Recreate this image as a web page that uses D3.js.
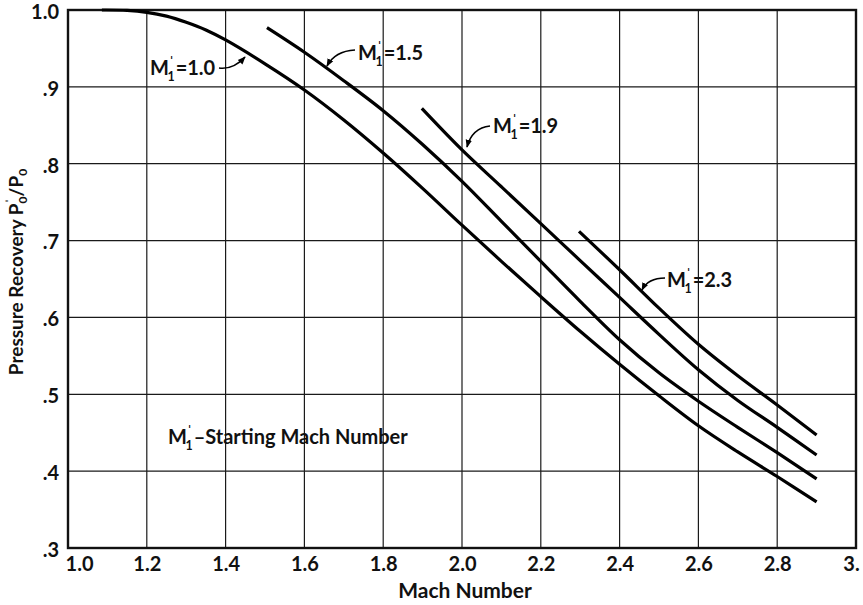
<!DOCTYPE html>
<html>
<head>
<meta charset="utf-8">
<script src="https://cdn.jsdelivr.net/npm/d3@7"></script>
<style>
  html, body { margin: 0; padding: 0; background: #fff; }
  svg { display: block; }
  text { font-family: Lato, "Open Sans", sans-serif; fill: #111; }
</style>
</head>
<body>
<svg id="chart" width="863" height="605"></svg>
<script>
// Pressure recovery vs. Mach number for several starting Mach numbers
const startingMach = ["1.0", "1.5", "1.9", "2.3"];

const mach_10 = [1.086, 1.15, 1.2, 1.25, 1.3, 1.35, 1.4, 1.5, 1.6, 1.7, 1.8, 1.9, 2.0, 2.1, 2.2, 2.3, 2.4, 2.5, 2.6, 2.7, 2.8, 2.9];
const recovery_10 = [1.0, 0.9995, 0.997, 0.992, 0.984, 0.974, 0.961, 0.930, 0.896, 0.857, 0.814, 0.768, 0.720, 0.673, 0.627, 0.582, 0.539, 0.498, 0.459, 0.425, 0.393, 0.360];

const mach_15 = [1.505, 1.6, 1.7, 1.8, 1.9, 2.0, 2.1, 2.2, 2.3, 2.4, 2.5, 2.6, 2.7, 2.8, 2.9];
const recovery_15 = [0.977, 0.945, 0.908, 0.869, 0.825, 0.777, 0.725, 0.673, 0.621, 0.571, 0.528, 0.491, 0.457, 0.424, 0.390];

const mach_19 = [1.898, 2.0, 2.1, 2.2, 2.3, 2.4, 2.5, 2.6, 2.7, 2.8, 2.9];
const recovery_19 = [0.872, 0.818, 0.770, 0.722, 0.674, 0.626, 0.578, 0.532, 0.492, 0.457, 0.421];

const mach_23 = [2.297, 2.4, 2.5, 2.6, 2.7, 2.8, 2.9];
const recovery_23 = [0.712, 0.662, 0.612, 0.565, 0.524, 0.486, 0.447];

const xTicks = [1.0, 1.2, 1.4, 1.6, 1.8, 2.0, 2.2, 2.4, 2.6, 2.8, 3.0];
const xTickLabels = ["1.0", "1.2", "1.4", "1.6", "1.8", "2.0", "2.2", "2.4", "2.6", "2.8", "3."];
const yTicks = [0.3, 0.4, 0.5, 0.6, 0.7, 0.8, 0.9, 1.0];
const yTickLabels = [".3", ".4", ".5", ".6", ".7", ".8", ".9", "1.0"];

const series = [
  { name: startingMach[0], mach: mach_10, rec: recovery_10 },
  { name: startingMach[1], mach: mach_15, rec: recovery_15 },
  { name: startingMach[2], mach: mach_19, rec: recovery_19 },
  { name: startingMach[3], mach: mach_23, rec: recovery_23 }
];

const svg = d3.select("#chart");
const plot = { left: 68, right: 856, top: 10, bottom: 548 };

const x = d3.scaleLinear().domain([1.0, 3.0]).range([plot.left, plot.right]);
const y = d3.scaleLinear().domain([0.3, 1.0]).range([plot.bottom, plot.top]);

// grid
const grid = svg.append("g").attr("stroke", "#1a1a1a").attr("stroke-width", 1.2);
grid.selectAll("line.v").data(xTicks.slice(1, -1)).join("line")
  .attr("x1", d => x(d)).attr("x2", d => x(d))
  .attr("y1", plot.top).attr("y2", plot.bottom);
grid.selectAll("line.h").data(yTicks.slice(1, -1)).join("line")
  .attr("x1", plot.left).attr("x2", plot.right)
  .attr("y1", d => y(d)).attr("y2", d => y(d));

// frame
svg.append("rect")
  .attr("x", plot.left).attr("y", plot.top)
  .attr("width", plot.right - plot.left).attr("height", plot.bottom - plot.top)
  .attr("fill", "none").attr("stroke", "#111").attr("stroke-width", 2.4);

// axes (labels only; gridlines drawn above)
const xAxis = d3.axisBottom(x).tickValues(xTicks)
  .tickFormat((d, i) => xTickLabels[i]).tickSize(0).tickPadding(9);
const gx = svg.append("g").attr("transform", `translate(0,${plot.bottom})`).call(xAxis);
gx.select(".domain").remove();
gx.selectAll("text").attr("font-size", 20).attr("font-weight", 700)
  .attr("font-family", "Lato, sans-serif").attr("fill", "#111")
  .attr("dx", (d, i) => i === 0 ? 11 : (i === xTicks.length - 1 ? -5 : 0));

const yAxis = d3.axisLeft(y).tickValues(yTicks)
  .tickFormat((d, i) => yTickLabels[i]).tickSize(0).tickPadding(9);
const gy = svg.append("g").attr("transform", `translate(${plot.left},0)`).call(yAxis);
gy.select(".domain").remove();
gy.selectAll("text").attr("font-size", 20).attr("font-weight", 700)
  .attr("font-family", "Lato, sans-serif").attr("fill", "#111")
  .attr("dy", "0.42em");

// curves
const line = d3.line()
  .x(d => x(d[0])).y(d => y(d[1]))
  .curve(d3.curveCatmullRom.alpha(0.5));
svg.append("g").selectAll("path").data(series).join("path")
  .attr("d", s => line(s.mach.map((m, i) => [m, s.rec[i]])))
  .attr("fill", "none").attr("stroke", "#000").attr("stroke-width", 3.2)
  .attr("stroke-linecap", "butt");

// M'1 label: M with a prime over a subscript 1
function machLabel(g, px, py, rest, size) {
  const t = g.append("text").attr("x", px).attr("y", py)
    .attr("font-size", size).attr("font-weight", 700);
  t.append("tspan").text("M");
  t.append("tspan").attr("font-size", size * 0.62).attr("dy", -size * 0.40).attr("dx", 1).text("ˈ");
  t.append("tspan").attr("font-size", size * 0.62).attr("dy", size * 0.68).attr("dx", -size * 0.28).text("1");
  t.append("tspan").attr("dy", -size * 0.28).attr("dx", 1).text(rest);
  return t;
}

svg.append("defs").append("marker")
  .attr("id", "arrow").attr("viewBox", "0 0 10 10")
  .attr("refX", 9).attr("refY", 5)
  .attr("markerWidth", 8).attr("markerHeight", 8)
  .attr("markerUnits", "userSpaceOnUse")
  .attr("orient", "auto")
  .append("path").attr("d", "M0,1 L10,5 L0,9 Z").attr("fill", "#000");

const notes = svg.append("g");
const annotations = [
  { label: "=" + startingMach[0], tx: 150, ty: 75, path: "M219,68 Q233,70 245,57" },
  { label: "=" + startingMach[1], tx: 358, ty: 60, path: "M355,50 Q335,51 327,66" },
  { label: "=" + startingMach[2], tx: 493, ty: 133, path: "M490,126 Q472,128 467,147" },
  { label: "=" + startingMach[3], tx: 667, ty: 287, path: "M665,278 Q648,278 642,290" }
];
annotations.forEach(a => {
  machLabel(notes, a.tx, a.ty, a.label, 20);
  notes.append("path").attr("d", a.path)
    .attr("fill", "none").attr("stroke", "#000").attr("stroke-width", 1.6)
    .attr("marker-end", "url(#arrow)");
});

machLabel(notes, 168, 444, "–Starting Mach Number", 20);

// axis titles
svg.append("text")
  .attr("x", 465).attr("y", 598)
  .attr("text-anchor", "middle").attr("font-size", 21).attr("font-weight", 700)
  .text("Mach Number");

const yt = svg.append("text")
  .attr("transform", "translate(23,272) rotate(-90)")
  .attr("text-anchor", "middle").attr("font-size", 19).attr("font-weight", 700);
yt.append("tspan").text("Pressure Recovery P");
yt.append("tspan").attr("font-size", 12).attr("dy", -8).attr("dx", 1).text("ˈ");
yt.append("tspan").attr("font-size", 12).attr("dy", 12).attr("dx", -4).text("0");
yt.append("tspan").attr("dy", -4).text("/P");
yt.append("tspan").attr("font-size", 12).attr("dy", 4).text("0");
</script>
</body>
</html>
